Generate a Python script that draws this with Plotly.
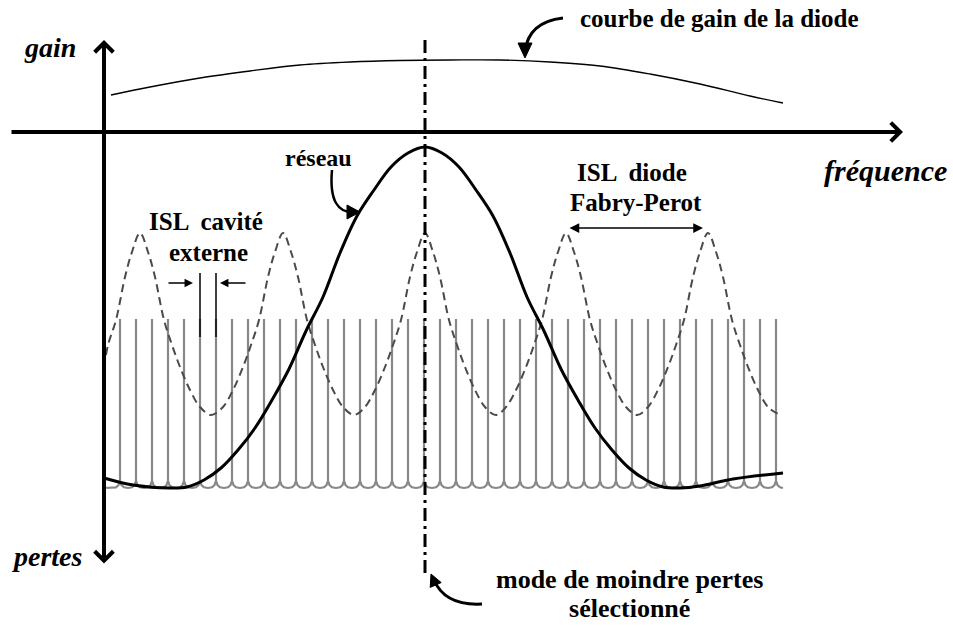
import plotly.graph_objects as go

# ---------------- data (arbitrary units: frequency, gain(+)/losses(-)) ----------------
gain_freq = [7, 46, 96, 146, 196, 246, 296, 346, 396, 446, 496, 546, 596, 646, 679]
gain_val = [37, 45, 54, 61, 67, 70, 71.5, 72, 72, 70, 66, 58, 48, 36, 29]

grating_freq = [0, 29, 66, 83, 100, 117, 134, 151, 168, 185, 202, 219, 236, 253, 270, 287, 304,
                321, 338, 355, 372, 389, 406, 423, 440, 457, 474, 491, 508, 525, 542, 559, 576,
                596, 629, 679]
grating_val = [-346, -353, -356, -355, -348, -336, -318, -296, -268, -237, -199, -165, -121, -84,
               -58, -35, -21, -15, -21, -35, -58, -84, -121, -165, -199, -237, -268, -296, -318,
               -336, -348, -355, -356, -354, -347, -341]

fp_freq = [0, 4, 12, 21, 28, 36, 44, 51, 60, 68, 76, 86, 96, 107,
           119, 129, 139, 147, 155, 164, 171, 179, 187, 194, 203, 211, 219, 229, 239, 250,
           261, 271, 281, 289, 297, 306, 313, 321, 329, 336, 345, 353, 361, 371, 381, 392,
           402, 412, 422, 430, 438, 447, 454, 462, 470, 477, 486, 494, 502, 512, 522, 533,
           544, 554, 564, 572, 580, 589, 596, 604, 612, 619, 628, 636, 644, 654, 664, 676]
fp_val = [-236, -213, -188, -145, -120, -101, -120, -145, -188, -213, -235, -258, -275, -283,
          -275, -258, -235, -213, -188, -145, -120, -101, -120, -145, -188, -213, -235, -258, -275, -283,
          -275, -258, -235, -213, -188, -145, -120, -101, -120, -145, -188, -213, -235, -258, -275, -283,
          -275, -258, -235, -213, -188, -145, -120, -101, -120, -145, -188, -213, -235, -258, -275, -283,
          -275, -258, -235, -213, -188, -145, -120, -101, -120, -145, -188, -213, -235, -258, -275, -283]

comb_freq = [16, 32, 48, 64, 80, 96, 112, 128, 144, 160, 176, 192, 208, 224, 240, 256, 272, 288,
             304, 320, 336, 352, 368, 384, 400, 416, 432, 448, 464, 480, 496, 512, 528, 544, 560,
             576, 592, 608, 624, 640, 656, 672]
comb_top = -187
comb_base = -356
comb_end = 679

isl_marks = [96, 112]          # two external-cavity modes marked in black
isl_mark_range = [-141, -205]
selected_mode = 321

# ---------------- build comb polyline from the mode list ----------------
cx, cy = [0], [comb_base]
for f in comb_freq:
    cx += [f - 8, f - 4, f - 1.5, f, f, f, f + 1.5, f + 4]
    cy += [comb_base, comb_base + 0.7, comb_base + 3, comb_base + 7, comb_top,
           comb_base + 7, comb_base + 3, comb_base + 0.7]
cx += [comb_end]
cy += [comb_base]

fig = go.Figure()

fig.add_trace(go.Scatter(x=cx, y=cy, mode="lines", line=dict(color="#888888", width=2.2),
                         hoverinfo="skip", showlegend=False))
fig.add_trace(go.Scatter(x=fp_freq, y=fp_val, mode="lines", line_shape="spline",
                         line=dict(color="#4a4a4a", width=2, dash="8px,5px"),
                         hoverinfo="skip", showlegend=False))
fig.add_trace(go.Scatter(x=grating_freq, y=grating_val, mode="lines", line_shape="spline",
                         line=dict(color="black", width=3), hoverinfo="skip", showlegend=False))
fig.add_trace(go.Scatter(x=gain_freq, y=gain_val, mode="lines", line_shape="spline",
                         line=dict(color="black", width=1.3), hoverinfo="skip", showlegend=False))

mx, my = [], []
for f in isl_marks:
    mx += [f, f, None]
    my += [isl_mark_range[0], isl_mark_range[1], None]
fig.add_trace(go.Scatter(x=mx, y=my, mode="lines", line=dict(color="black", width=1.5),
                         hoverinfo="skip", showlegend=False))

shapes = [
    dict(type="line", xref="x", yref="y", x0=selected_mode, x1=selected_mode, y0=92, y1=-443,
         line=dict(color="black", width=3, dash="13px,5px,3px,5px")),
    # curved pointer arrows
    dict(type="path", xref="x", yref="y", path="M 228,-38 Q 224,-83 252,-80",
         line=dict(color="black", width=2.5)),
    dict(type="path", xref="x", yref="y", path="M 256,-80 L 243,-73 L 243,-87 Z",
         fillcolor="black", line=dict(color="black", width=1)),
    dict(type="path", xref="x", yref="y", path="M 459,114 Q 424,110 421,80",
         line=dict(color="black", width=3)),
    dict(type="path", xref="x", yref="y", path="M 421,74 L 414,89 L 428,89 Z",
         fillcolor="black", line=dict(color="black", width=1)),
    dict(type="path", xref="x", yref="y", path="M 378,-472 Q 341,-474 330,-448",
         line=dict(color="black", width=3)),
    dict(type="path", xref="x", yref="y", path="M 327,-442 L 337.2,-450.6 L 326.2,-455.4 Z",
         fillcolor="black", line=dict(color="black", width=1)),
]

ann = []
# axes with arrows
ann.append(dict(x=799, y=0, ax=-94, ay=0, xref="x", yref="y", axref="x", ayref="y", text="",
                showarrow=True, arrowhead=4, arrowsize=0.9, arrowwidth=4, arrowcolor="black"))
ann.append(dict(x=0, y=92, ax=0, ay=-433, xref="x", yref="y", axref="x", ayref="y", text="",
                showarrow=True, arrowhead=4, arrowsize=0.9, arrowwidth=4, arrowcolor="black",
                arrowside="end+start", startarrowhead=4, startarrowsize=0.9))
# ISL arrows
ann.append(dict(x=89, y=-151, ax=63, ay=-151, xref="x", yref="y", axref="x", ayref="y", text="",
                showarrow=True, arrowhead=2, arrowsize=1.3, arrowwidth=1.3, arrowcolor="black"))
ann.append(dict(x=116, y=-151, ax=143, ay=-151, xref="x", yref="y", axref="x", ayref="y", text="",
                showarrow=True, arrowhead=2, arrowsize=1.3, arrowwidth=1.3, arrowcolor="black"))
ann.append(dict(x=599, y=-96, ax=464, ay=-96, xref="x", yref="y", axref="x", ayref="y", text="",
                showarrow=True, arrowhead=2, arrowsize=1.3, arrowwidth=1.5, arrowcolor="black",
                arrowside="end+start", startarrowhead=2, startarrowsize=1.3))

F = "Liberation Serif"


def label(txt, x, y, size):
    ann.append(dict(x=x, y=y, xref="x", yref="y", text=txt, showarrow=False,
                    xanchor="center", yanchor="middle", font=dict(family=F, size=size, color="black")))


label("<b><i>gain</i></b>", -54, 85, 28)
label("<b><i>pertes</i></b>", -57, -424, 28)
label("<b><i>fréquence</i></b>", 781, -38, 30)
label("<b>courbe de gain de la diode</b>", 615, 114, 25)
label("<b>réseau</b>", 214, -26, 24)
label("<b>ISL  cavité</b>", 102, -89, 25)
label("<b>externe</b>", 104, -120, 25)
label("<b>ISL  diode</b>", 528, -40, 25)
label("<b>Fabry-Perot</b>", 532, -70, 25)
# two tight lines: base size sets the line spacing, spans set the glyph size
label('<span style="font-size:26px"><b>mode de moindre pertes</b></span><br>'
      '<span style="font-size:26px"><b>sélectionné</b></span>', 525, -462, 22.5)

fig.update_layout(
    width=953, height=628, autosize=False,
    margin=dict(l=0, r=0, t=0, b=0),
    paper_bgcolor="white", plot_bgcolor="white",
    xaxis=dict(range=[-104, 849], visible=False, fixedrange=True),
    yaxis=dict(range=[-496, 132], visible=False, fixedrange=True),
    shapes=shapes, annotations=ann, hovermode=False, showlegend=False,
)

fig.write_html("out.html", config={"displayModeBar": False, "staticPlot": True},
               post_script="document.body.style.margin='0';")
